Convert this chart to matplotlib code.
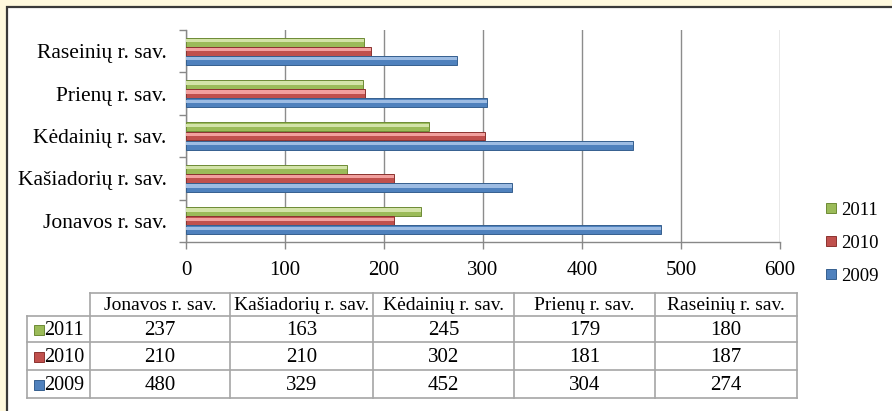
import matplotlib
matplotlib.use("Agg")
import matplotlib.pyplot as plt
from matplotlib.patches import Rectangle
from matplotlib.lines import Line2D
import numpy as np

plt.rcParams['font.family'] = ['Liberation Serif', 'DejaVu Serif']

categories = ["Jonavos r. sav.", "Kašiadorių r. sav.", "Kėdainių r. sav.", "Prienų r. sav.", "Raseinių r. sav."]
years = ["2011", "2010", "2009"]
v2011 = [237, 163, 245, 179, 180]
v2010 = [210, 210, 302, 181, 187]
v2009 = [480, 329, 452, 304, 274]
series = [v2011, v2010, v2009]
xticks = [0, 100, 200, 300, 400, 500, 600]

base_cols = ["#9BBB59", "#C0504D", "#4F81BD"]
light_cols = ["#D3E3A8", "#F2A09E", "#9DBCE3"]
dark_cols = ["#6E8B36", "#8C3330", "#36608F"]

W, H = 892, 411
fig = plt.figure(figsize=(W / 100, H / 100), dpi=100)

# background / frame
bg = fig.add_axes([0, 0, 1, 1], zorder=0)
bg.set_xlim(0, W)
bg.set_ylim(H, 0)
bg.axis('off')
bg.add_patch(Rectangle((0, 0), W, H, facecolor="#FFF9DE", edgecolor='none'))
bg.add_patch(Rectangle((7, 7), W, H, facecolor="white", edgecolor="#3A3A3A", lw=1.6))

# main chart axes
L, R, T, B = 186, 780, 30, 242
ax = fig.add_axes([L / W, 1 - B / H, (R - L) / W, (B - T) / H], zorder=1)
ax.set_facecolor('none')
y = np.arange(len(categories))
h = 0.215
offsets = [h, 0, -h]
for vals, off, bc, lc, dc in zip(series, offsets, base_cols, light_cols, dark_cols):
    ax.barh(y + off, vals, height=h * 0.97, color=bc, edgecolor=dc, lw=0.7, zorder=3)
    ax.barh(y + off + h * 0.17, vals, height=h * 0.36, color=lc, lw=0, zorder=4)

ax.set_xlim(0, 600)
ax.set_ylim(-0.5, len(categories) - 0.5)
ax.set_xticks(xticks)
ax.set_xticklabels([str(t) for t in xticks], fontsize=15)
ax.set_yticks(y)
ax.set_yticklabels(categories, fontsize=15.5)
ax.set_yticks(np.arange(len(categories) + 1) - 0.5, minor=True)
ax.tick_params(axis='y', which='major', length=0, pad=14)
ax.tick_params(axis='y', which='minor', length=5, color="#888888", width=1)
ax.tick_params(axis='x', length=5, color="#888888", width=1, pad=9)
ax.grid(axis='x', color="#8C8C8C", lw=1, zorder=0)
for s in ['top', 'right']:
    ax.spines[s].set_visible(False)
for s in ['left', 'bottom']:
    ax.spines[s].set_color("#888888")
    ax.spines[s].set_linewidth(1)

# legend
handles = [Line2D([], [], marker='s', linestyle='', markerfacecolor=bc, markeredgecolor=dc,
                  markersize=7, markeredgewidth=0.7) for bc, dc in zip(base_cols, dark_cols)]
fig.legend(handles, years, loc='center left', bbox_to_anchor=(823 / W, 1 - 243 / H),
           frameon=False, fontsize=13.5, handlelength=0.8, handletextpad=0.15,
           labelspacing=0.85, borderpad=0, borderaxespad=0)

# data table
cx = [27, 90, 230, 373, 514, 655, 797]
ry = [293, 316, 342, 370, 398]
tc = "#A6A6A6"
bg.plot([cx[1], cx[-1]], [ry[0], ry[0]], color=tc, lw=1.2)
for yy in ry[1:]:
    bg.plot([cx[0], cx[-1]], [yy, yy], color=tc, lw=1.2)
bg.plot([cx[0], cx[0]], [ry[1], ry[-1]], color=tc, lw=1.2)
for xx in cx[1:]:
    bg.plot([xx, xx], [ry[0], ry[-1]], color=tc, lw=1.2)
for j, cat in enumerate(categories):
    bg.text((cx[j + 1] + cx[j + 2]) / 2, (ry[0] + ry[1]) / 2 + 1, cat, ha='center', va='center', fontsize=14)
for i, (yr, vals) in enumerate(zip(years, series)):
    yc = (ry[i + 1] + ry[i + 2]) / 2 + 1
    bg.plot([38.5], [yc], marker='s', markersize=7, markerfacecolor=base_cols[i],
            markeredgecolor=dark_cols[i], markeredgewidth=0.7)
    bg.text(44, yc, yr, ha='left', va='center', fontsize=14.5)
    for j, v in enumerate(vals):
        bg.text((cx[j + 1] + cx[j + 2]) / 2, yc, str(v), ha='center', va='center', fontsize=15)

fig.savefig("out.png", dpi=100)
